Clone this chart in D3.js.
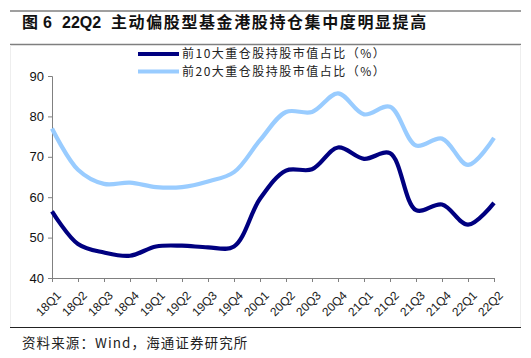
<!DOCTYPE html>
<html><head><meta charset="utf-8">
<script src="https://cdn.jsdelivr.net/npm/d3@7"></script>
<style>
body{margin:0;background:#fff;}
svg{display:block;}
text{white-space:pre;}
</style></head>
<body>
<script>
const categories = ["18Q1","18Q2","18Q3","18Q4","19Q1","19Q2","19Q3","19Q4","20Q1","20Q2","20Q3","20Q4","21Q1","21Q2","21Q3","21Q4","22Q1","22Q2"];
const top10 = [56.5,48.4,46.3,45.5,47.8,48.0,47.6,47.8,59.6,66.6,66.9,72.3,69.5,70.9,56.8,58.2,53.2,58.6];
const top20 = [77.0,66.8,63.3,63.6,62.5,62.5,63.9,66.2,74.1,81.1,81.1,85.7,80.5,82.4,72.8,74.5,68.0,74.7];
const yTicks = [40,50,60,70,80,90];
const seriesNames = ["前10大重仓股持股市值占比（%）","前20大重仓股持股市值占比（%）"];
const seriesColors = ["#000080","#99CCFF"];
const source = "资料来源：Wind，海通证券研究所";

const W = 531, H = 358;
const svg = d3.select("body").append("svg").attr("width", W).attr("height", H);

// frame lines
svg.append("line").attr("x1",10).attr("x2",521).attr("y1",11).attr("y2",11).attr("stroke","#7f7f7f").attr("stroke-width",1.5);
svg.append("line").attr("x1",10).attr("x2",521).attr("y1",44.5).attr("y2",44.5).attr("stroke","#7f7f7f").attr("stroke-width",1.5);
svg.append("line").attr("x1",10).attr("x2",521).attr("y1",327.5).attr("y2",327.5).attr("stroke","#222").attr("stroke-width",1.2);
svg.append("line").attr("x1",10.5).attr("x2",10.5).attr("y1",45).attr("y2",327).attr("stroke","#eeeeee");
svg.append("line").attr("x1",520.5).attr("x2",520.5).attr("y1",45).attr("y2",327).attr("stroke","#eeeeee");

// title
const t = svg.append("text").attr("x",22).attr("y",28)
  .attr("font-family","'Noto Sans CJK SC', sans-serif").attr("font-weight","bold")
  .attr("font-size",16).attr("fill","#111");
t.append("tspan").text("图");
t.append("tspan").attr("x",43).text("6").attr("font-family","Arial, 'Liberation Sans', sans-serif");
t.append("tspan").attr("x",62).text("22Q2").attr("font-family","Arial, 'Liberation Sans', sans-serif");
t.append("tspan").attr("x",111).text("主动偏股型基金港股持仓集中度明显提高").attr("letter-spacing",1.6);

const x = d3.scalePoint().domain(categories).range([52, 494]);
const y = d3.scaleLinear().domain([40, 90]).range([278, 76]);

// axes
const yAxis = svg.append("g").attr("transform","translate(52,0)")
  .call(d3.axisLeft(y).tickValues(yTicks).tickSize(4).tickPadding(4));
yAxis.selectAll("text").attr("font-family","Arial, 'Liberation Sans', sans-serif").attr("font-size",13).attr("fill","#111");
const xAxis = svg.append("g").attr("transform","translate(0,278)")
  .call(d3.axisBottom(x).tickSize(4).tickPadding(2));
xAxis.selectAll("text").attr("font-family","Arial, 'Liberation Sans', sans-serif").attr("font-size",12).attr("fill","#222")
  .attr("text-anchor","end").attr("dy","0.35em")
  .attr("transform","translate(2,11) rotate(-45)");
svg.selectAll(".domain, .tick line").attr("stroke","#808080");

// lines
const line = d3.line().x((d,i)=>x(categories[i])).y(d=>y(d)).curve(d3.curveCatmullRom.alpha(0.5));
[[top20,1],[top10,0]].forEach(([s,idx])=>{
  svg.append("path").attr("d", line(s)).attr("fill","none")
    .attr("stroke", seriesColors[idx]).attr("stroke-width", 4.2).attr("stroke-linejoin","round");
});

// legend
seriesNames.forEach((n,i)=>{
  const ly = 54 + i*17.5;
  svg.append("line").attr("x1",138).attr("x2",179).attr("y1",ly).attr("y2",ly)
    .attr("stroke",seriesColors[i]).attr("stroke-width",4.2);
  svg.append("text").attr("x",182).attr("y",ly+4.3).text(n)
    .attr("font-family","'Noto Sans CJK SC', sans-serif").attr("font-size",12).attr("fill","#222")
    .attr("letter-spacing",1.5);
});

// source
svg.append("text").attr("x",22).attr("y",348).text(source)
  .attr("font-family","'Noto Sans CJK SC', sans-serif").attr("font-size",13.5).attr("fill","#222")
  .attr("letter-spacing",1.1);
</script>
</body></html>
